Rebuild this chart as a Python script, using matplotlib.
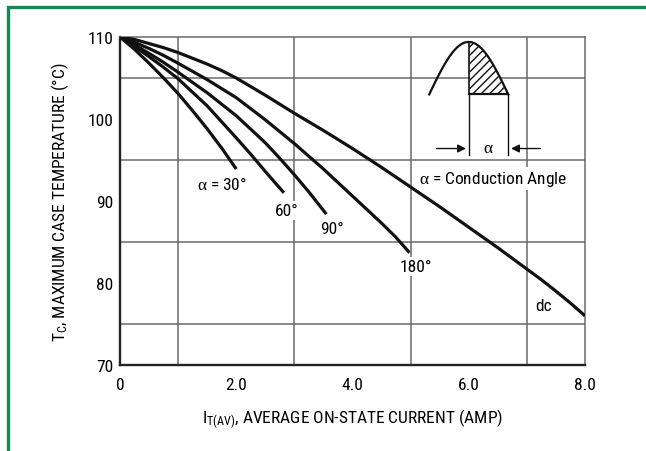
import numpy as np
import matplotlib
matplotlib.use('Agg')
import matplotlib.pyplot as plt
from matplotlib.patches import Rectangle

# ---------------------------------------------------------------------------
# Data
# ---------------------------------------------------------------------------
dc_x = [0, 0.25, 0.5, 0.75, 1.0, 1.25, 1.5, 1.75, 2.0, 2.5, 3.0, 3.5, 4.0, 4.5,
        5.0, 5.5, 6.0, 6.5, 6.75, 7.0, 7.25, 7.5, 7.75, 8.0]
dc_y = [110, 109.7, 109.2, 108.7, 108.1, 107.4, 106.7, 105.9, 105.0, 102.9, 100.7,
        98.6, 96.4, 94.1, 91.7, 89.3, 86.8, 84.3, 83.0, 81.7, 80.4, 79.0, 77.55, 76.0]

a180_x = [0, 0.25, 0.5, 0.75, 1.0, 1.5, 2.0, 2.5, 3.0, 3.5, 4.0, 4.25, 4.5, 4.75, 4.98]
a180_y = [110, 109.35, 108.6, 107.75, 106.8, 104.8, 102.6, 99.9, 97.0, 93.9, 90.6,
          88.95, 87.3, 85.55, 83.7]

a90_x = [0, 0.25, 0.5, 0.75, 1.0, 1.5, 2.0, 2.5, 2.75, 3.0, 3.25, 3.55]
a90_y = [110, 109.05, 108.0, 106.9, 105.7, 103.2, 100.4, 97.1, 95.2, 93.2, 91.1, 88.4]

a60_x = [0, 0.25, 0.5, 0.75, 1.0, 1.5, 2.0, 2.25, 2.5, 2.82]
a60_y = [110, 108.85, 107.6, 106.3, 104.9, 101.6, 97.7, 95.7, 93.6, 91.0]

a30_x = [0, 0.25, 0.5, 0.75, 1.0, 1.25, 1.5, 1.75, 2.0]
a30_y = [110, 108.5, 106.8, 105.0, 103.1, 101.0, 98.8, 96.45, 93.9]

x_ticks = [0, 2, 4, 6, 8]
x_ticklabels = ['0', '2.0', '4.0', '6.0', '8.0']
y_ticks = [70, 80, 90, 100, 110]

FONT = ['Roboto Condensed', 'DejaVu Sans']
plt.rcParams['font.family'] = FONT
plt.rcParams['mathtext.fontset'] = 'custom'
plt.rcParams['mathtext.rm'] = 'Roboto Condensed'
plt.rcParams['mathtext.it'] = 'Liberation Serif'

GRID = '#6a6a6a'
INK = '#111111'
ALPHA = r'$\mathit{\alpha}$'

fig = plt.figure(figsize=(6.46, 4.52), dpi=100)
ax = fig.add_axes([120 / 646, 1 - 366 / 452, 465 / 646, 328 / 452])

# --- curves ---
for xs, ys in [(dc_x, dc_y), (a180_x, a180_y), (a90_x, a90_y),
               (a60_x, a60_y), (a30_x, a30_y)]:
    ax.plot(xs, ys, color=INK, lw=2.3, solid_capstyle='butt',
            solid_joinstyle='round', zorder=4)

# --- axes / grid ---
ax.set_xlim(0, 8)
ax.set_ylim(70, 110)
ax.set_xticks(x_ticks)
ax.set_xticklabels(x_ticklabels)
ax.set_yticks(y_ticks)
ax.set_xticks(np.arange(0, 9, 1), minor=True)
ax.set_yticks(np.arange(70, 111, 5), minor=True)
ax.grid(True, which='minor', color=GRID, lw=1.1, zorder=1)
ax.tick_params(which='both', length=0)
ax.tick_params(axis='x', pad=9, labelsize=12.5)
ax.tick_params(axis='y', pad=5, labelsize=12.5)
for s in ['left', 'bottom']:
    ax.spines[s].set_color('#222222')
    ax.spines[s].set_linewidth(1.7)
for s in ['top', 'right']:
    ax.spines[s].set_color(GRID)
    ax.spines[s].set_linewidth(1.1)

ax.set_xlabel(r'I$_\mathregular{T(AV)}$, AVERAGE ON-STATE CURRENT (AMP)',
              fontsize=12.5, labelpad=10)
ax.set_ylabel(r'T$_\mathregular{C}$, MAXIMUM CASE TEMPERATURE (°C)',
              fontsize=12.5, labelpad=12)

# --- curve labels (white box breaks the grid like the original) ---
box = dict(facecolor='white', edgecolor='none', pad=1.5)
lbl = dict(fontsize=12.5, ha='center', va='center', bbox=box, zorder=5)
ax.text(1.76, 92.1, ALPHA + ' = 30°', **lbl)
ax.text(2.87, 88.8, '60°', **lbl)
ax.text(3.65, 86.6, '90°', **lbl)
ax.text(5.09, 82.0, '180°', **lbl)
ax.text(7.28, 77.2, 'dc', **lbl)
ax.text(6.42, 92.7, ALPHA + ' = Conduction Angle', **lbl)

# --- inset schematic: half sine with hatched conduction angle ---
th = np.linspace(0, np.pi, 60)
sx = 6.0 + 0.68 * (th - np.pi / 2) / (np.pi / 2)
sy = 103.0 + 6.4 * np.sin(th)
ax.plot(sx, sy, color=INK, lw=1.6, zorder=4)
m = sx >= 6.0
ax.fill_between(sx[m], 103.0, sy[m], facecolor='white', edgecolor=INK,
                hatch='////', lw=0, zorder=3)
ax.plot([6.0, 6.0], [103.0, 109.4], color=INK, lw=1.2, zorder=4)
ax.plot([6.0, 6.68], [103.0, 103.0], color=INK, lw=1.6, zorder=4)
ax.plot([6.68, 6.68], [103.0, 95.6], color=INK, lw=1.0, zorder=4)
ax.plot([6.0, 6.0], [103.0, 95.6], color=INK, lw=1.0, zorder=4)
arrow = dict(arrowstyle='-|>', color=INK, lw=1.0, mutation_scale=12)
ax.annotate('', xy=(6.0, 96.4), xytext=(5.4, 96.4), arrowprops=arrow, zorder=5)
ax.annotate('', xy=(6.68, 96.4), xytext=(7.28, 96.4), arrowprops=arrow, zorder=5)
ax.text(6.34, 96.5, ALPHA, fontsize=12.5, ha='center', va='center',
        bbox=box, zorder=5)

# --- green frame ---
fig.patches.append(Rectangle((8 / 646, -0.1), 1.2, 1 - 7.5 / 452 + 0.1,
                             transform=fig.transFigure, fill=False,
                             edgecolor='#138a55', lw=2.4, zorder=10))

fig.savefig('out.png', dpi=100, facecolor='white')
